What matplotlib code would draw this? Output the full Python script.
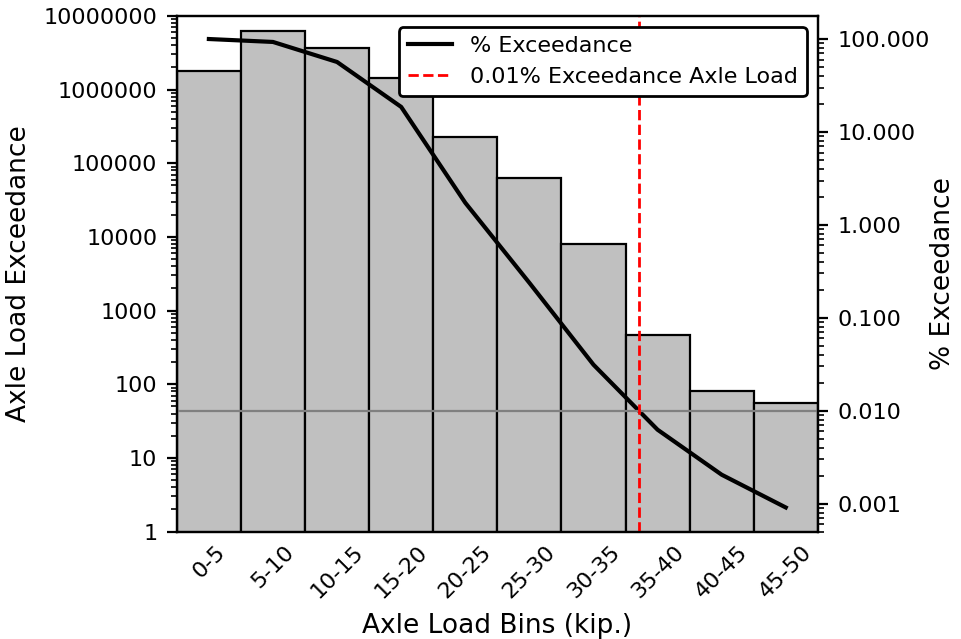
import numpy as np
import matplotlib
matplotlib.use('Agg')
import matplotlib.pyplot as plt
from matplotlib.ticker import FuncFormatter, LogLocator

# Axle load bins and counts
bins = ['0-5', '5-10', '10-15', '15-20', '20-25', '25-30', '30-35', '35-40', '40-45', '45-50']
counts = [1810000, 6300000, 3650000, 1460000, 230000, 64000, 7980, 470, 80, 56]
pct_exceed = [100.0, 93.0, 56.6, 18.6, 1.73, 0.238, 0.0313, 0.00625, 0.00205, 0.00091]
threshold = 0.01

x = np.arange(len(bins))

# where the exceedance line crosses the threshold (log interpolation)
logp = np.log10(pct_exceed)
x_cross = np.interp(np.log10(threshold), logp[::-1], x[::-1])

fig, ax = plt.subplots(figsize=(4.805, 3.195), dpi=200)
fig.subplots_adjust(left=0.184, right=0.851, top=0.975, bottom=0.168)

ax.bar(x, counts, width=1.0, color='#c0c0c0', edgecolor='black', linewidth=0.8)
ax.set_yscale('log')
ax.set_ylim(1, 1e7)
ax.set_xlim(-0.5, 9.5)
ax.yaxis.set_major_locator(LogLocator(base=10, numticks=10))
ax.yaxis.set_major_formatter(FuncFormatter(lambda v, p: f'{v:.0f}'))
ax.set_xticks(x)
ax.set_xticklabels(bins, rotation=45)
ax.tick_params(axis='x', length=0)
ax.tick_params(labelsize=8)
ax.set_xlabel('Axle Load Bins (kip.)', fontsize=9.5)
ax.set_ylabel('Axle Load Exceedance', fontsize=9.5)

ax2 = ax.twinx()
ax2.plot(x, pct_exceed, color='black', linewidth=1.5, label='% Exceedance')
ax2.axhline(threshold, color='gray', linewidth=0.8)
ax2.axvline(x_cross, color='red', linestyle='--', linewidth=1.0,
            label='0.01% Exceedance Axle Load')
ax2.set_yscale('log')
ax2.set_ylim(5e-4, 177)
ax2.yaxis.set_major_locator(LogLocator(base=10, numticks=10))
ax2.yaxis.set_major_formatter(FuncFormatter(lambda v, p: f'{v:.3f}'))
ax2.tick_params(labelsize=8)
ax2.set_ylabel('% Exceedance', fontsize=9.5, labelpad=0)
ax2.legend(loc='upper right', fontsize=8, framealpha=1, edgecolor='black')

plt.savefig('out.png', dpi=200)
